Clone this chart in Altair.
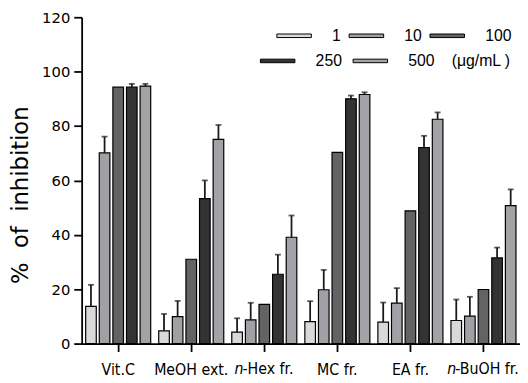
import altair as alt
import pandas as pd

# ---------------- data ----------------
groups = ["Vit.C", "MeOH ext.", "n-Hex fr.", "MC fr.", "EA fr.", "n-BuOH fr."]
concs = ["1", "10", "100", "250", "500"]
unit_label = "(\u03bcg/mL )"
y_title = "%\u00a0 of\u00a0 inhibition"

mean_vitc = [13.7, 70.1, 94.3, 94.3, 94.7]
mean_meoh = [4.7, 9.9, 31.0, 53.3, 75.1]
mean_hex = [4.2, 8.7, 14.4, 25.5, 39.1]
mean_mc = [8.1, 19.8, 70.3, 90.0, 91.6]
mean_ea = [7.9, 14.9, 48.8, 72.1, 82.5]
mean_buoh = [8.5, 10.1, 19.9, 31.5, 50.7]

sd_vitc = [7.9, 6.0, 0.0, 1.2, 0.8]
sd_meoh = [6.2, 5.8, 0.0, 6.7, 5.3]
sd_hex = [5.1, 6.3, 0.0, 7.2, 8.0]
sd_mc = [7.5, 7.3, 0.0, 1.2, 0.8]
sd_ea = [7.2, 5.5, 0.0, 4.3, 2.5]
sd_buoh = [7.7, 7.1, 0.0, 3.8, 6.0]

y_ticks = [0, 20, 40, 60, 80, 100, 120]

# ---------------- styles ----------------
bar_colors = ["#d9d9d9", "#a1a1a5", "#636363", "#333333", "#a3a3a7"]
x_font = "DejaVu Sans Condensed"
y_font = "DejaVu Sans"
legend_font = "Liberation Sans"
X_FS = 16

means = [mean_vitc, mean_meoh, mean_hex, mean_mc, mean_ea, mean_buoh]
sds = [sd_vitc, sd_meoh, sd_hex, sd_mc, sd_ea, sd_buoh]

rows = []
for g, m, s in zip(groups, means, sds):
    for c, mv, sv in zip(concs, m, s):
        rows.append({"group": g, "conc": c, "mean": mv, "sd": sv, "hi": mv + sv})
df = pd.DataFrame(rows)

W, H = 444.6, 331
X_TICK, X_PAD = 8, 10

x_enc = alt.X(
    "group:N",
    sort=groups,
    scale=alt.Scale(paddingInner=0, paddingOuter=0),
    axis=alt.Axis(
        title=None,
        labelAngle=0,
        labelFont=x_font,
        labelFontSize=X_FS,
        labelColor="#000",
        labelPadding=X_PAD,
        labelBaseline="top",
        labelExpr="indexof(datum.label, 'n-') == 0 ? '' : datum.label",
        tickSize=X_TICK,
        tickWidth=1.8,
        tickColor="#000",
        domainWidth=1.8,
        domainColor="#000",
        labelOverlap=False,
    ),
)
xo_enc = alt.XOffset(
    "conc:N", sort=concs, scale=alt.Scale(paddingInner=0.22, paddingOuter=0.295)
)
y_enc = alt.Y(
    "mean:Q",
    scale=alt.Scale(domain=[0, 120], nice=False),
    axis=alt.Axis(
        title=y_title,
        values=y_ticks,
        grid=False,
        labelFont=y_font,
        labelFontSize=15,
        labelColor="#000",
        labelPadding=4,
        tickSize=8,
        tickWidth=1.8,
        tickColor="#000",
        domainWidth=1.8,
        domainColor="#000",
        titleFont="DejaVu Sans",
        titleFontSize=23,
        titleFontWeight="normal",
        titleColor="#000",
        titleAngle=270,
        titleAlign="center",
        titleBaseline="middle",
        titleX=-62,
        titleY=180,
    ),
)

base = alt.Chart(df)

bars = base.mark_bar(stroke="#000", strokeWidth=1.2).encode(
    x=x_enc,
    xOffset=xo_enc,
    y=y_enc,
    fill=alt.Fill("conc:N", sort=concs, scale=alt.Scale(domain=concs, range=bar_colors), legend=None),
)

err = base.transform_filter("datum.sd > 0")
err_rule = err.mark_rule(color="#1a1a1a", strokeWidth=1.8).encode(
    x=alt.X("group:N", sort=groups),
    xOffset=alt.XOffset("conc:N", sort=concs),
    y=alt.Y("mean:Q"),
    y2="hi:Q",
)
err_cap = err.mark_tick(color="#1a1a1a", thickness=1.8, size=6).encode(
    x=alt.X("group:N", sort=groups),
    xOffset=alt.XOffset("conc:N", sort=concs),
    y=alt.Y("hi:Q"),
)

# ------- x labels with an italic "n" prefix (drawn as text at the band centre) -------
# approximate advance widths (em) of DejaVu Sans Condensed
adv = {"n": 0.571, "-": 0.325, "H": 0.677, "e": 0.554, "x": 0.533, " ": 0.286,
       "f": 0.317, "r": 0.370, ".": 0.286, "B": 0.617, "u": 0.571, "O": 0.708}
label_y = H + X_TICK + X_PAD
n_layers = []
for g in groups:
    if not g.startswith("n-"):
        continue
    total = sum(adv.get(ch, 0.6) for ch in g) * X_FS
    split = -total / 2 + adv["n"] * X_FS
    gdf = pd.DataFrame([{"group": g, "head": "n", "tail": g[1:]}])
    head = alt.Chart(gdf).mark_text(
        align="right", baseline="top", font=x_font, fontSize=X_FS,
        fontStyle="italic", color="#000", dx=split + 1,
    ).encode(x=alt.X("group:N", sort=groups), y=alt.value(label_y), text="head:N")
    tail = alt.Chart(gdf).mark_text(
        align="left", baseline="top", font=x_font, fontSize=X_FS,
        color="#000", dx=split,
    ).encode(x=alt.X("group:N", sort=groups), y=alt.value(label_y), text="tail:N")
    n_layers += [head, tail]

# ---------------- manual legend (layout in pixels of the plot area) ----------------
sw_w, sw_h, lab_gap = 35, 3.6, 21
row_y = [18.8, 44.3]
entry_layout = [(198.0, 0), (271.3, 0), (353.3, 0), (181.3, 1), (275.3, 1)]
leg_rows = []
for lab, col, (sx, r) in zip(concs, bar_colors, entry_layout):
    leg_rows.append({
        "label": lab, "color": col,
        "x1": sx, "x2": sx + sw_w,
        "y1": row_y[r] - sw_h / 2, "y2": row_y[r] + sw_h / 2,
        "tx": sx + sw_w + lab_gap, "ty": row_y[r],
    })
leg_df = pd.DataFrame(leg_rows)
unit_df = pd.DataFrame([{"label": unit_label, "tx": 375.3, "ty": row_y[1]}])

leg_sw = alt.Chart(leg_df).mark_rect(stroke="#000", strokeWidth=1).encode(
    x=alt.X("x1:Q", scale=None, axis=None),
    x2="x2:Q",
    y=alt.Y("y1:Q", scale=None, axis=None),
    y2="y2:Q",
    fill=alt.Fill("color:N", scale=None, legend=None),
)
leg_txt = alt.Chart(leg_df).mark_text(
    align="left", baseline="middle", font=legend_font, fontSize=16, color="#000"
).encode(
    x=alt.X("tx:Q", scale=None, axis=None),
    y=alt.Y("ty:Q", scale=None, axis=None),
    text="label:N",
)
unit_txt = alt.Chart(unit_df).mark_text(
    align="left", baseline="middle", font=legend_font, fontSize=16, color="#000"
).encode(
    x=alt.X("tx:Q", scale=None, axis=None),
    y=alt.Y("ty:Q", scale=None, axis=None),
    text="label:N",
)

chart = (
    alt.layer(bars, err_rule, err_cap, *n_layers, leg_sw, leg_txt, unit_txt)
    .properties(
        width=W,
        height=H,
        autosize=alt.AutoSizeParams(type="none"),
        padding={"left": 74.7, "top": 6.7, "right": 0, "bottom": 37.3},
        background="white",
    )
    .configure_view(stroke=None)
)

chart.save("out.html", embed_options={"renderer": "svg", "actions": False})
